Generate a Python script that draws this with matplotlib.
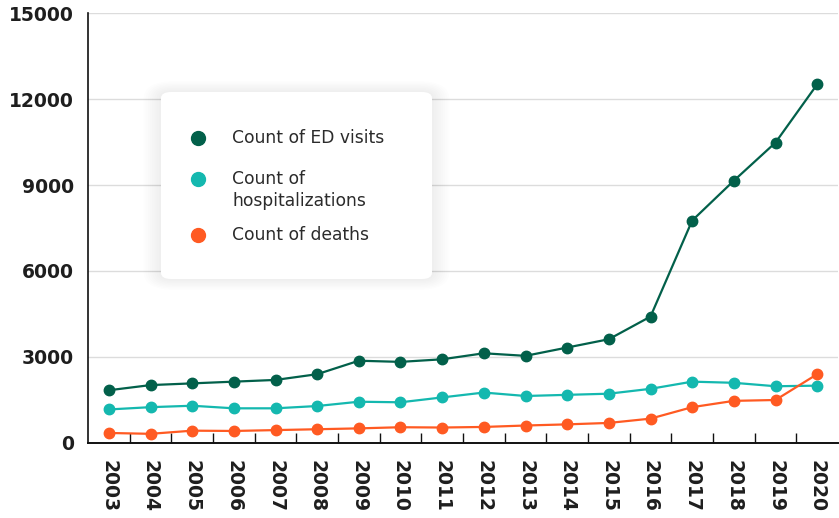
import matplotlib
matplotlib.use("Agg")
import matplotlib.pyplot as plt
from matplotlib.patches import FancyBboxPatch
from matplotlib.lines import Line2D
from matplotlib.ticker import FixedLocator, NullFormatter

years = ["2003", "2004", "2005", "2006", "2007", "2008", "2009", "2010", "2011",
         "2012", "2013", "2014", "2015", "2016", "2017", "2018", "2019", "2020"]
ed_visits = [1840, 2020, 2080, 2140, 2200, 2400, 2870, 2830, 2920,
             3130, 3040, 3330, 3620, 4410, 7760, 9150, 10480, 12510]
hospitalizations = [1170, 1250, 1300, 1210, 1210, 1290, 1440, 1420, 1590,
                    1760, 1640, 1680, 1720, 1890, 2140, 2100, 1980, 2000]
deaths = [350, 320, 430, 420, 450, 480, 510, 550, 540,
          560, 610, 650, 700, 850, 1250, 1470, 1500, 2400]

series_names = ["Count of ED visits", "Count of\nhospitalizations", "Count of deaths"]
series_colors = ["#02604A", "#14B8AF", "#FF5A22"]
y_ticks = [0, 3000, 6000, 9000, 12000, 15000]

W, H = 839, 518
fig = plt.figure(figsize=(W / 100, H / 100), dpi=100)
ax = fig.add_axes([88 / W, (H - 443) / H, (838 - 88) / W, (443 - 13) / H])

x = list(range(len(years)))
for vals, col in zip([ed_visits, hospitalizations, deaths], series_colors):
    ax.plot(x, vals, color=col, lw=1.6, marker="o", ms=7.5, zorder=3,
            solid_capstyle="round")

ax.set_xlim(-0.5, len(years) - 0.5)
ax.set_ylim(0, 15000)
ax.set_yticks(y_ticks)
ax.set_yticklabels([str(v) for v in y_ticks])
ax.set_xticks(x)
ax.set_xticklabels(years, rotation=-90, va="top", ha="center")
ax.xaxis.set_minor_locator(FixedLocator([i + 0.5 for i in range(len(years) - 1)]))
ax.xaxis.set_minor_formatter(NullFormatter())
ax.tick_params(axis="x", which="major", length=0, pad=12)
ax.tick_params(axis="x", which="minor", direction="in", length=7.5, width=1, color="#111111")
ax.tick_params(axis="y", length=0, pad=10)
for lab in ax.get_xticklabels() + ax.get_yticklabels():
    lab.set_fontfamily("DejaVu Sans")
    lab.set_fontweight("bold")
    lab.set_fontsize(13.5)
    lab.set_color("#1e1e1e")

ax.grid(axis="y", color="#dcdcdc", lw=1)
ax.set_axisbelow(True)
for side in ["top", "right"]:
    ax.spines[side].set_visible(False)
ax.spines["left"].set_color("#111111")
ax.spines["bottom"].set_color("#111111")
ax.spines["left"].set_linewidth(1.2)
ax.spines["bottom"].set_linewidth(1.4)

# legend panel with a soft shadow
bx0, bx1, by0, by1 = 161, 432, 92, 279
def fx(px):
    return px / W
def fy(py):
    return (H - py) / H
for k in range(8, 0, -1):
    sh = FancyBboxPatch((fx(bx0), fy(by1)), fx(bx1) - fx(bx0), fy(by0) - fy(by1),
                        boxstyle=f"round,pad={k * 2.2 / W},rounding_size={0.012 + k * 0.003}",
                        transform=fig.transFigure, facecolor="#000000",
                        edgecolor="none", alpha=0.006, zorder=4)
    fig.add_artist(sh)
box = FancyBboxPatch((fx(bx0), fy(by1)), fx(bx1) - fx(bx0), fy(by0) - fy(by1),
                     boxstyle="round,pad=0,rounding_size=0.012",
                     transform=fig.transFigure, facecolor="white",
                     edgecolor="none", zorder=5)
fig.add_artist(box)

entry_y = [138, 179, 235]
for name, col, py in zip(series_names, series_colors, entry_y):
    fig.add_artist(Line2D([fx(198)], [fy(py)], transform=fig.transFigure,
                          marker="o", ms=10, color=col, lw=0, zorder=6))
    multi = "\n" in name
    fig.text(fx(232), fy(py - 9 if multi else py), name, transform=fig.transFigure,
             fontsize=12.3, family="DejaVu Sans", color="#2b2b2b",
             va="top" if multi else "center", ha="left", linespacing=1.25, zorder=6)

fig.savefig("out.png", dpi=100)
